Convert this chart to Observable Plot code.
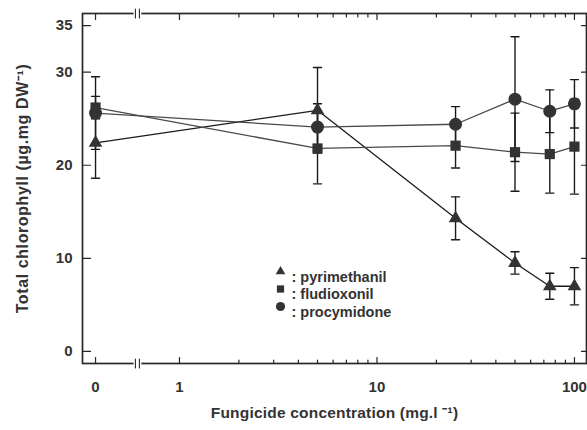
<!DOCTYPE html>
<html><head><meta charset="utf-8">
<script src="https://cdn.jsdelivr.net/npm/d3@7"></script>
<script src="https://cdn.jsdelivr.net/npm/@observablehq/plot@0.6"></script>
<style>body{margin:0;background:#fff} .ytitle text{letter-spacing:0.6px} .xtitle text{letter-spacing:0.2px}</style>
</head><body><div id="chart"></div>
<script>
// Data
const conc = [0, 5, 25, 50, 75, 100];
const pyrimethanil = [22.4, 25.9, 14.3, 9.5, 7.0, 7.0];
const pyrimethanilErr = [3.8, 4.6, 2.3, 1.2, 1.4, 2.0];
const fludioxonil = [26.2, 21.8, 22.1, 21.4, 21.2, 22.0];
const fludioxonilErr = [1.2, 3.8, 2.4, 4.2, 4.2, 5.1];
const procymidone = [25.6, 24.1, 24.4, 27.1, 25.8, 26.6];
const procymidoneErr = [3.9, 2.5, 1.9, 6.7, 2.3, 2.6];
const xMajorTicks = [0, 1, 10, 100];
const xMinorTicks = [2,3,4,5,6,7,8,9,20,30,40,50,60,70,80,90];
const yTicks = [0, 10, 20, 30, 35];
const xTitle = "Fungicide concentration (mg.l \u207B\u00B9)";
const yTitle = "Total chlorophyll (\u00B5g.mg DW\u207B\u00B9)";

// broken log axis: 0 placed left of the break, then log10
const zeroPos = -0.425, breakPos = -0.213;
const xpos = c => c === 0 ? zeroPos : Math.log10(c);

const series = [
  {name: "pyrimethanil", values: pyrimethanil, err: pyrimethanilErr, symbol: "triangle2", line: "#1a1a1a"},
  {name: "fludioxonil", values: fludioxonil, err: fludioxonilErr, symbol: "square2", line: "#4a4a4a"},
  {name: "procymidone", values: procymidone, err: procymidoneErr, symbol: "circle", line: "#4a4a4a"}
];
const rows = series.flatMap(s => conc.map((c, i) => ({
  series: s.name, symbol: s.symbol, x: xpos(c), y: s.values[i],
  lo: s.values[i] - s.err[i], hi: s.values[i] + s.err[i]
})));

const ink = "#262626";
const font = "Liberation Sans, Arial, sans-serif";
const seg = {draw(context, l) { context.moveTo(0, 0); context.lineTo(0, -l); }};

const tickMarks = (vals, anchor, len) => {
  const rot = {bottom: 0, top: 180, left: 90, right: -90}[anchor];
  const horiz = anchor === "bottom" || anchor === "top";
  return Plot.vector(vals, {
    ...(horiz ? {x: d => d} : {y: d => d}),
    frameAnchor: anchor, rotate: rot, length: len, anchor: "start", shape: seg,
    stroke: ink, strokeWidth: 1.2
  });
};

const marks = [
  Plot.frame({stroke: ink, strokeWidth: 1.7}),
  // inward ticks
  tickMarks(xMajorTicks.map(xpos), "bottom", 6),
  tickMarks(xMinorTicks.map(xpos), "bottom", 3.5),
  tickMarks(xMajorTicks.map(xpos), "top", 6),
  tickMarks(xMinorTicks.map(xpos), "top", 3.5),
  tickMarks(yTicks, "left", 8),
  tickMarks(yTicks, "right", 5),
  // tick labels
  Plot.axisX(xMajorTicks.map(xpos), {anchor: "bottom", tickSize: 0, tickPadding: 18, label: null,
    tickFormat: (d, i) => String(xMajorTicks[i]), fontSize: 15, fontWeight: "bold", fill: "#333"}),
  Plot.axisY(yTicks, {anchor: "left", tickSize: 0, tickPadding: 10, label: null,
    fontSize: 15, fontWeight: "bold", fill: "#333"}),
  // axis break marks
  ...["top", "bottom"].flatMap(a => [
    Plot.vector([breakPos], {x: d => d, frameAnchor: a, rotate: 90, length: 4, anchor: "middle", shape: seg, stroke: "white", strokeWidth: 4}),
    Plot.vector([breakPos], {x: d => d, frameAnchor: a, length: 9, anchor: "middle", dx: -2, shape: seg, stroke: ink, strokeWidth: 1.1}),
    Plot.vector([breakPos], {x: d => d, frameAnchor: a, length: 9, anchor: "middle", dx: 2, shape: seg, stroke: ink, strokeWidth: 1.1})
  ]),
  // lines
  ...series.map(s => Plot.line(rows.filter(r => r.series === s.name), {x: "x", y: "y", stroke: s.line, strokeWidth: 1.3})),
  // error bars
  Plot.ruleX(rows, {x: "x", y1: "lo", y2: "hi", stroke: "#1a1a1a", strokeWidth: 1.4}),
  Plot.vector(rows, {x: "x", y: "lo", rotate: 90, length: 8, anchor: "middle", shape: seg, stroke: "#1a1a1a", strokeWidth: 1.4}),
  Plot.vector(rows, {x: "x", y: "hi", rotate: 90, length: 8, anchor: "middle", shape: seg, stroke: "#1a1a1a", strokeWidth: 1.4}),
  // markers
  ...series.map(s => Plot.dot(rows.filter(r => r.series === s.name), {x: "x", y: "y", symbol: s.symbol,
    r: 6.5, fill: "#333", stroke: "none"})),
  // legend
  ...series.flatMap((s, i) => [
    Plot.dot([s], {frameAnchor: "top-left", dx: 198, dy: 258 + i * 17.5, symbol: s.symbol, r: 4.6, fill: "#333"}),
    Plot.text([s], {frameAnchor: "top-left", dx: 209, dy: 258 + i * 17.5, text: d => ": " + d.name,
      textAnchor: "start", fontSize: 14.5, fontWeight: "bold", fill: "#333"})
  ]),
  // axis titles
  Plot.text([xTitle], {frameAnchor: "bottom", dy: 54, text: d => d, textAnchor: "middle",
    fontSize: 15.5, fontWeight: "bold", fill: "#333", className: "xtitle"}),
  Plot.text([yTitle], {frameAnchor: "left", dx: -60, rotate: -90, text: d => d, textAnchor: "middle",
    fontSize: 16, fontWeight: "bold", fill: "#333", className: "ytitle"})
];

const chart = Plot.plot({
  width: 587, height: 430,
  marginLeft: 82, marginRight: 1, marginTop: 13, marginBottom: 67,
  style: {fontFamily: font, background: "white", color: "#333"},
  x: {domain: [-0.491, 2.061]},
  y: {domain: [-1.3, 36.3]},
  marks
});
document.getElementById("chart").appendChild(chart);
</script>
</body></html>
